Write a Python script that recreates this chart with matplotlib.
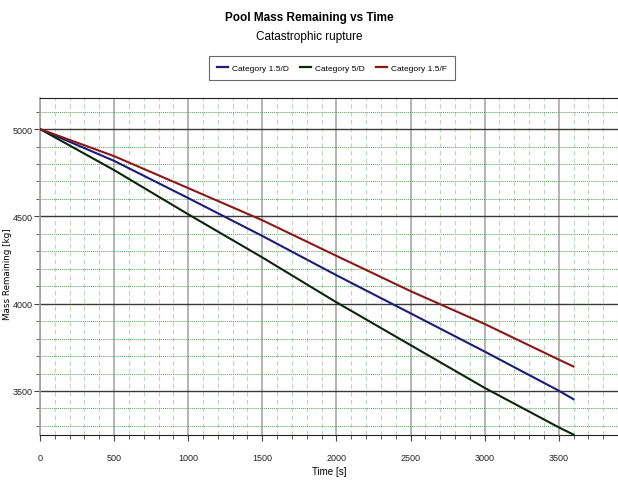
import matplotlib
matplotlib.use("Agg")
import matplotlib.pyplot as plt
from matplotlib.ticker import MultipleLocator

# readings from the reference chart
time_s = [0, 500, 1000, 1500, 2000, 2500, 3000, 3500, 3600]
mass_15d = [5000, 4818, 4605, 4388, 4163, 3945, 3726, 3502, 3453]
mass_5d = [5000, 4765, 4512, 4265, 4008, 3763, 3518, 3292, 3250]
mass_15f = [5000, 4845, 4662, 4478, 4274, 4072, 3884, 3680, 3640]

series = [
    ("Category 1.5/D", mass_15d, "#1c1c78"),
    ("Category 5/D", mass_5d, "#0c260c"),
    ("Category 1.5/F", mass_15f, "#8a1818"),
]

NARROW = ["Liberation Sans", "DejaVu Sans"]

fig = plt.figure(figsize=(6.18, 4.81), dpi=100)
ax = fig.add_axes([40 / 618, 1 - 436 / 481, 1 - 40 / 618, (436 - 99) / 481])

for name, vals, col in series:
    ax.plot(time_s, vals, color=col, lw=1.5, label=name, zorder=5)

ax.set_xlim(0, 3900)
ax.set_ylim(3248, 5178)

ax.xaxis.set_major_locator(MultipleLocator(500))
ax.xaxis.set_minor_locator(MultipleLocator(100))
ax.yaxis.set_major_locator(MultipleLocator(500))
ax.yaxis.set_minor_locator(MultipleLocator(100))

ax.grid(which="minor", axis="x", color="#b8dab8", ls=(0, (4, 3)), lw=0.8)
ax.grid(which="minor", axis="y", color="#5a9e5a", ls=(0, (1, 1)), lw=0.7)
ax.grid(which="major", axis="x", color="#a8a8a8", ls="-", lw=1.2)
ax.grid(which="major", axis="y", color="#3a3a3a", ls="-", lw=1.0)
ax.set_axisbelow(True)

ax.spines["right"].set_visible(False)
ax.spines["top"].set_color("#222222")
ax.spines["bottom"].set_color("#222222")
ax.spines["left"].set_color("#a0a0a0")
ax.spines["left"].set_linewidth(1.2)

ax.tick_params(which="major", direction="out", length=4, width=0.8, colors="#444444",
               labelsize=6.5, labelcolor="#222222")
ax.tick_params(axis="x", which="major", pad=9)
ax.tick_params(axis="y", which="major", pad=1.5)
ax.tick_params(which="minor", direction="out", length=3, width=0.6, colors="#444444")
for lbl in ax.get_xticklabels() + ax.get_yticklabels():
    lbl.set_family(NARROW)

ax.set_xlabel("Time [s]", fontsize=7, family=NARROW, labelpad=3)
ax.set_ylabel("Mass Remaining [kg]", fontsize=6.3, family="DejaVu Sans")
ax.yaxis.set_label_coords(-28 / 578, 0.48)

fig.text(0.5, 1 - 18 / 481, "Pool Mass Remaining vs Time", ha="center", va="center",
         fontsize=8.5, fontweight="bold", family=NARROW)
fig.text(0.5, 1 - 37 / 481, "Catastrophic rupture", ha="center", va="center",
         fontsize=8.5, family=NARROW)

leg = fig.legend(loc="center", bbox_to_anchor=(332 / 618, 1 - 69 / 481), ncol=3,
                 frameon=True, fancybox=False, edgecolor="#444444",
                 prop={"family": NARROW, "size": 6}, handlelength=1.3, columnspacing=1.3,
                 handletextpad=0.5, borderpad=1.0)
leg.get_frame().set_linewidth(0.8)
for line in leg.get_lines():
    line.set_linewidth(1.6)

fig.savefig("out.png", dpi=100)
